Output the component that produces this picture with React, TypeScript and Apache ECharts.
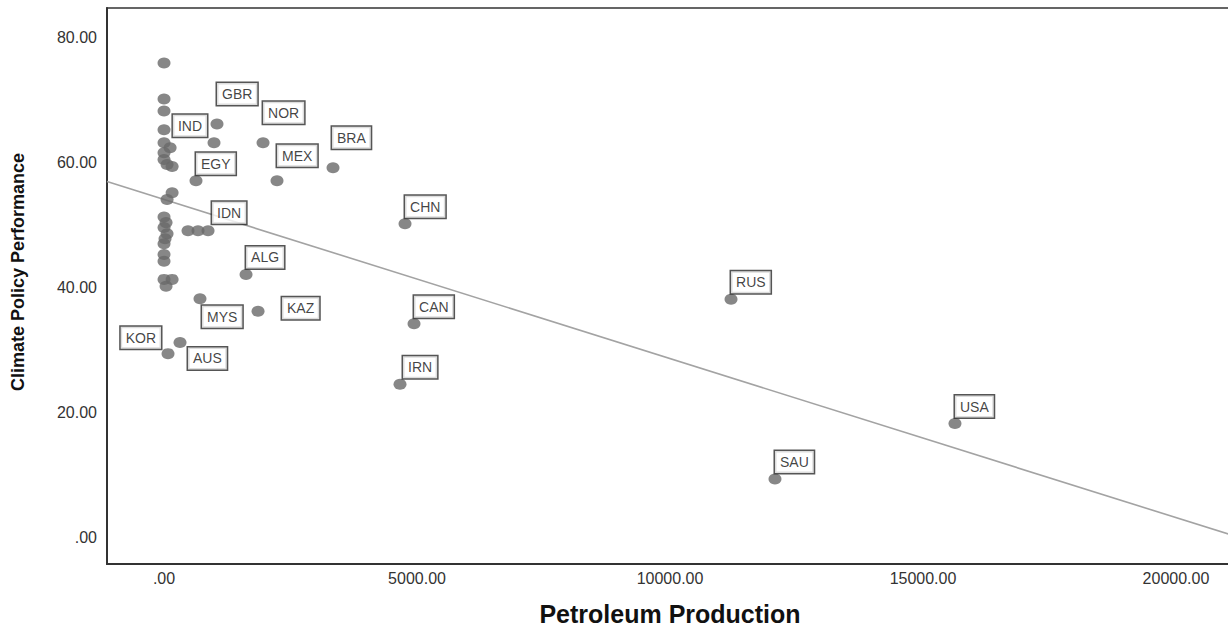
import React, { useEffect, useRef } from "react";
import * as echarts from "echarts";

// ---- data ----
const countryCodes = ["GBR", "IND", "NOR", "EGY", "MEX", "BRA", "CHN", "IDN", "ALG", "MYS", "KAZ", "CAN", "KOR", "AUS", "IRN", "RUS", "SAU", "USA"];
const countryProduction = [1047, 988, 1957, 632, 2233, 3340, 4763, 870, 1621, 711, 1858, 4941, 79, 316, 4664, 11206, 12075, 15632];
const countryClimate = [66.2, 63.2, 63.2, 57.1, 57.1, 59.2, 50.2, 49.1, 42.1, 38.2, 36.2, 34.2, 29.4, 31.2, 24.5, 38.1, 9.3, 18.2];

const otherProduction = [0, 0, 0, 0, 0, 120, 0, 0, 60, 160, 160, 60, 0, 40, 0, 60, 20, 0, 0, 0, 0, 160, 40, 474, 672];
const otherClimate = [76.0, 70.2, 68.3, 65.3, 63.2, 62.4, 61.6, 60.5, 59.7, 59.4, 55.2, 54.1, 51.3, 50.4, 49.6, 48.6, 47.8, 47.0, 45.3, 44.2, 41.3, 41.3, 40.2, 49.1, 49.1];

const xTickValues = [0, 5000, 10000, 15000, 20000];
const yTickValues = [0, 20, 40, 60, 80];
const xRange = [-1127, 21127];
const yRange = [-4.32, 84.8];

// linear fit line (intercept, slope)
const fitIntercept = 54.1;
const fitSlope = -0.002549;

const xTitle = "Petroleum Production";
const yTitle = "Climate Policy Performance";

// ---- layout of label boxes relative to the dot (pixels) ----
type Place = { align: "left" | "right"; vAlign: "top" | "bottom"; dx: number; dy: number };
const defaultPlace: Place = { align: "left", vAlign: "bottom", dx: 0, dy: -6 };
const labelPlacement: Record<string, Place> = {
  GBR: { align: "left", vAlign: "bottom", dx: 0, dy: -19 },
  NOR: { align: "left", vAlign: "bottom", dx: 0, dy: -19 },
  BRA: { align: "left", vAlign: "bottom", dx: -1, dy: -19 },
  MEX: { align: "left", vAlign: "bottom", dx: 0, dy: -14 },
  IND: { align: "right", vAlign: "bottom", dx: -7, dy: -6 },
  IDN: { align: "left", vAlign: "bottom", dx: 4, dy: -7 },
  IRN: { align: "left", vAlign: "bottom", dx: 3, dy: -6 },
  MYS: { align: "left", vAlign: "top", dx: 2, dy: 7 },
  KAZ: { align: "left", vAlign: "top", dx: 24, dy: -14 },
  KOR: { align: "right", vAlign: "bottom", dx: -7, dy: -5 },
  AUS: { align: "left", vAlign: "top", dx: 8, dy: 5 },
};

const SYM_W = 13;
const SYM_H = 11;
const FONT = "'Liberation Sans', Arial, Helvetica, sans-serif";

function fmt(v: number, ticks: number[]) {
  const hit = ticks.find((t) => Math.abs(t - v) < 1e-6);
  if (hit === undefined) return "";
  return hit === 0 ? ".00" : hit.toFixed(2);
}

export default function App() {
  const ref = useRef<HTMLDivElement>(null);

  useEffect(() => {
    document.body.style.margin = "0";
    document.body.style.overflow = "hidden";
    if (!ref.current) return;
    const chart = echarts.init(ref.current, undefined, { renderer: "svg" });

    const labeledData = countryCodes.map((code, i) => {
      const p = labelPlacement[code] || defaultPlace;
      return {
        value: [countryProduction[i], countryClimate[i]],
        name: code,
        label: {
          show: true,
          formatter: code,
          position: [SYM_W / 2 + p.dx, SYM_H / 2 + p.dy],
          align: p.align,
          verticalAlign: p.vAlign,
          color: "#111111",
          fontFamily: FONT,
          fontSize: 14,
          lineHeight: 14,
          backgroundColor: "#ffffff",
          borderColor: "#2a2a2a",
          borderWidth: 1.5,
          padding: [4, 5, 4, 5],
        },
      };
    });

    const otherData = otherProduction.map((x, i) => [x, otherClimate[i]]);

    const fitData = xRange.map((x) => [x, fitIntercept + fitSlope * x]);

    chart.setOption({
      animation: false,
      backgroundColor: "#ffffff",
      grid: {
        left: 107,
        top: 8,
        right: 7,
        bottom: 66,
        show: true,
        borderColor: "#333333",
        borderWidth: 1.5,
        backgroundColor: "transparent",
      },
      xAxis: {
        type: "value",
        min: xRange[0],
        max: xRange[1],
        splitNumber: 5,
        name: xTitle,
        nameLocation: "middle",
        nameGap: 37,
        nameTextStyle: { fontFamily: FONT, fontSize: 25, fontWeight: "bold", color: "#111" },
        axisLine: { show: true, onZero: false, lineStyle: { color: "#333", width: 2 } },
        axisTick: { show: false },
        splitLine: { show: false },
        axisLabel: {
          formatter: (v: number) => fmt(v, xTickValues),
          fontFamily: FONT,
          fontSize: 16,
          color: "#333333",
          margin: 6,
          showMinLabel: true,
          showMaxLabel: true,
        },
      },
      yAxis: {
        type: "value",
        min: yRange[0],
        max: yRange[1],
        splitNumber: 5,
        name: yTitle,
        nameLocation: "middle",
        nameGap: 80,
        nameRotate: 90,
        nameTextStyle: {
          fontFamily: FONT,
          fontSize: 18,
          fontWeight: "bold",
          color: "#111",
          padding: [0, 0, 0, 28],
        },
        axisLine: { show: true, onZero: false, lineStyle: { color: "#333", width: 2 } },
        axisTick: { show: false },
        splitLine: { show: false },
        axisLabel: {
          formatter: (v: number) => fmt(v, yTickValues),
          fontFamily: FONT,
          fontSize: 16,
          color: "#333333",
          margin: 10,
        },
      },
      series: [
        {
          type: "line",
          data: fitData,
          showSymbol: false,
          symbol: "none",
          lineStyle: { color: "#a3a3a3", width: 1.6 },
          z: 1,
          silent: true,
        },
        {
          type: "scatter",
          data: otherData,
          symbol: "circle",
          symbolSize: [SYM_W, SYM_H],
          itemStyle: { color: "#696969" },
          z: 2,
        },
        {
          type: "scatter",
          data: labeledData,
          symbol: "circle",
          symbolSize: [SYM_W, SYM_H],
          itemStyle: { color: "#696969" },
          labelLayout: { hideOverlap: false },
          z: 3,
        },
      ],
    });

    return () => {
      chart.dispose();
    };
  }, []);

  return (
    <div style={{ width: 1228, height: 631, overflow: "hidden" }}>
      <div ref={ref} style={{ width: 1240, height: 631 }} />
    </div>
  );
}
